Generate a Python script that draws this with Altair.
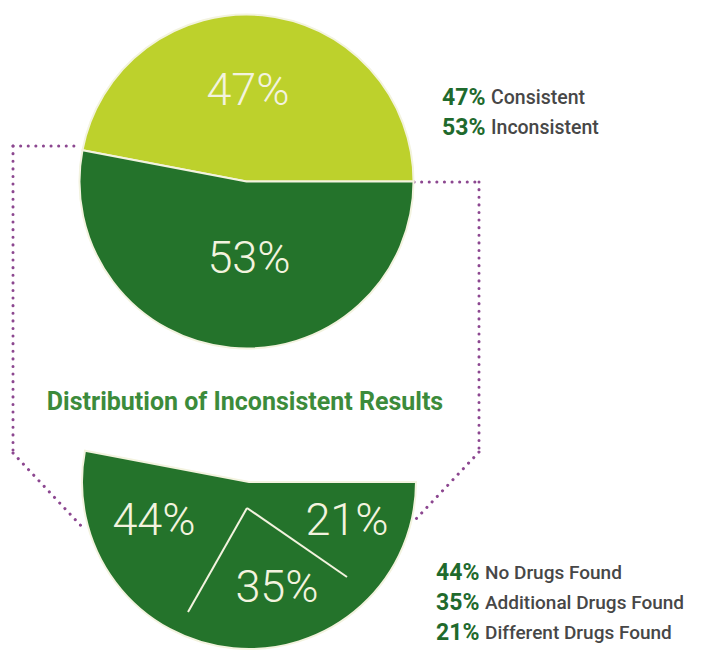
import math
import altair as alt
import pandas as pd

# ---- data ----
top_categories = ["Consistent", "Inconsistent"]
top_values = [47, 53]
bottom_categories = ["No Drugs Found", "Additional Drugs Found", "Different Drugs Found"]
bottom_values = [44, 35, 21]
title_text = "Distribution of Inconsistent Results"

# ---- style ----
LIME = "#bdd12c"
GREEN = "#24732b"
CREAM = "#f3f3df"
PURPLE = "#8c4790"
TITLE_GREEN = "#3c8b3b"
LEG_GREEN = "#1f6a2d"
LEG_GRAY = "#474747"
FONT = "Roboto"
M = 8  # page margin

W, H = 686, 644

top_df = pd.DataFrame({"category": top_categories, "value": top_values,
                       "idx": list(range(len(top_categories)))})
top_df["label"] = top_df["value"].astype(str) + "%"
bot_df = pd.DataFrame({"category": bottom_categories, "value": bottom_values})
bot_df["label"] = bot_df["value"].astype(str) + "%"

# pie start so the first slice ends at 3 o'clock
start = math.pi / 2 - 2 * math.pi * top_values[0] / sum(top_values)
theta_scale = alt.Scale(range=[start, start + 2 * math.pi])
color_scale = alt.Scale(domain=top_categories, range=[LIME, GREEN])

R = 167
TOP_C = (246.5, 181.5)
BOT_C = (249, 482)


def pie(center, hide_first=False):
    enc = dict(
        theta=alt.Theta("value:Q", stack=True, scale=theta_scale),
        color=alt.Color("category:N", scale=color_scale, legend=None),
        order=alt.Order("idx:Q"),
        x=alt.value(center[0] - M),
        y=alt.value(center[1] - M),
        radius=alt.value(R),
    )
    if hide_first:
        enc["opacity"] = alt.condition(
            alt.datum.category == top_categories[0], alt.value(0), alt.value(1))
    return alt.Chart(top_df).mark_arc(stroke=CREAM, strokeWidth=2).encode(**enc)


one = pd.DataFrame({"k": [0]})


def seg(x1, y1, x2, y2, dotted=True):
    if dotted:
        mk = alt.Chart(one).mark_rule(color=PURPLE, strokeWidth=3, strokeDash=[0.1, 7.5],
                                      strokeCap="round")
    else:
        mk = alt.Chart(one).mark_rule(color=CREAM, strokeWidth=2)
    return mk.encode(x=alt.value(x1 - M), y=alt.value(y1 - M),
                     x2=alt.value(x2 - M), y2=alt.value(y2 - M))


def txt(df, i, x, y, size, color, weight="normal", align="center", field="label"):
    return alt.Chart(df.iloc[[i]]).mark_text(
        font=FONT, fontSize=size, fontWeight=weight, color=color,
        align=align, baseline="middle").encode(
        text=f"{field}:N", x=alt.value(x - M), y=alt.value(y - M))


layers = []
# connectors
layers += [
    seg(13, 146, 80, 146), seg(13, 146, 13, 453), seg(13, 453, 84, 529),
    seg(414, 182, 479, 182), seg(479, 182, 479, 452), seg(479, 452, 416, 519),
]
layers += [pie(TOP_C), pie(BOT_C, hide_first=True)]
# separators in lower slice
layers += [seg(247, 508, 188, 612, dotted=False), seg(247, 508, 347, 577, dotted=False)]

# labels inside pies
layers += [
    txt(top_df, 0, 248, 91, 45, CREAM, 300),
    txt(top_df, 1, 249, 259, 45, CREAM, 300),
    txt(bot_df, 0, 154, 521, 45, CREAM, 300),
    txt(bot_df, 1, 277, 588, 45, CREAM, 300),
    txt(bot_df, 2, 347, 521, 45, CREAM, 300),
]

# title
title_df = pd.DataFrame({"label": [title_text]})
layers.append(txt(title_df, 0, 245, 402, 25, TITLE_GREEN, "bold"))

# legends
for i, y in enumerate([98, 128]):
    layers.append(txt(top_df, i, 442, y, 23, LEG_GREEN, "bold", "left"))
    layers.append(txt(top_df, i, 491, y, 19.5, LEG_GRAY, 500, "left", "category"))
for i, y in enumerate([573, 603, 633]):
    layers.append(txt(bot_df, i, 436, y, 23, LEG_GREEN, "bold", "left"))
    layers.append(txt(bot_df, i, 485, y, 19, LEG_GRAY, 500, "left", "category"))

chart = alt.layer(*layers).properties(
    width=W, height=H, autosize=alt.AutoSizeParams(type="none"), padding=0,
    background="white",
).configure_view(stroke=None)

chart.save("out.html", embed_options={"renderer": "svg", "actions": False})
